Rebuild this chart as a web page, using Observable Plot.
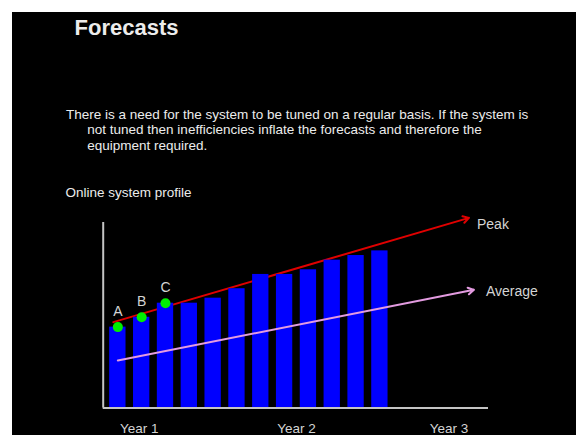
<!DOCTYPE html>
<html>
<head>
<meta charset="utf-8">
<script src="https://cdn.jsdelivr.net/npm/d3@7"></script>
<script src="https://cdn.jsdelivr.net/npm/@observablehq/plot@0.6"></script>
<style>
  html, body { margin: 0; padding: 0; background: #fff; width: 576px; height: 435px; overflow: hidden; }
  #slide { position: absolute; left: 12px; top: 12px; width: 564px; height: 423px; background: #000;
           font-family: "Liberation Sans", Arial, sans-serif; color: #ececec; }
  #title { position: absolute; left: 62.5px; top: 4.5px; margin: 0; font-size: 22px; line-height: 22px; font-weight: bold; }
  #para { position: absolute; left: 54px; top: 94.8px; margin: 0; font-size: 13.5px; line-height: 15.5px;
          padding-left: 21.3px; text-indent: -21.3px; white-space: nowrap; }
  #sub { position: absolute; left: 53.5px; top: 172.8px; margin: 0; font-size: 13.5px; line-height: 15.5px; }
  #chart { position: absolute; left: 0; top: 188px; }
  #chart svg { display: block; overflow: visible; }
</style>
</head>
<body>
<div id="slide">
  <h1 id="title">Forecasts</h1>
  <p id="para">There is a need for the system to be tuned on a regular basis. If the system is<br>not tuned then inefficiencies inflate the forecasts and therefore the<br>equipment required.</p>
  <p id="sub">Online system profile</p>
  <div id="chart"></div>
</div>
<script>
// Monthly profile bars
const months = [1, 2, 3, 4, 5, 6, 7, 8, 9, 10, 11, 12];
const load = [43.6, 48.9, 56.5, 56.5, 59.2, 64.3, 72.0, 72.0, 74.5, 79.7, 82.2, 84.7];

// Sample points A, B, C
const sampleLabels = ["A", "B", "C"];
const sampleMonths = [1, 2, 3];
const sampleValues = [43.6, 48.9, 56.5];

// Trend arrows
const peakX = [0.81, 15.74];
const peakY = [46.3, 102.5];
const avgX = [1.0, 15.95];
const avgY = [25.6, 63.7];
const trendLabels = ["Peak", "Average"];

// Year labels on the x axis
const yearLabels = ["Year 1", "Year 2", "Year 3"];
const yearPos = [1.9, 8.5, 14.9];

const xDomain = [0.385, 16.56];
const yDomain = [0, 100];

const bars = months.map((m, i) => ({m, v: load[i]}));
const samples = sampleLabels.map((s, i) => ({label: s, m: sampleMonths[i], v: sampleValues[i]}));
const peak = [{x1: peakX[0], y1: peakY[0], x2: peakX[1], y2: peakY[1]}];
const avg = [{x1: avgX[0], y1: avgY[0], x2: avgX[1], y2: avgY[1]}];

const textColor = "#d4d4d4";

const chart = Plot.plot({
  width: 564,
  height: 235,
  marginLeft: 90.7,
  marginRight: 88,
  marginTop: 22,
  marginBottom: 27.5,
  x: {domain: xDomain, axis: null},
  y: {domain: yDomain, axis: null},
  style: {background: "black", fontFamily: "Liberation Sans, Arial, sans-serif", overflow: "visible"},
  marks: [
    Plot.arrow(peak, {x1: "x1", y1: "y1", x2: "x2", y2: "y2", stroke: "#e00000", strokeWidth: 2, headLength: 5, headAngle: 60}),
    Plot.rectY(bars, {x1: d => d.m - 0.5, x2: d => d.m + 0.5, y: "v", insetLeft: 3.75, insetRight: 3.75, fill: "#0000ff"}),
    Plot.arrow(avg, {x1: "x1", y1: "y1", x2: "x2", y2: "y2", stroke: "#e39be0", strokeWidth: 2, headLength: 5, headAngle: 60}),
    Plot.ruleY([yDomain[0]], {stroke: "#c4c4c4", strokeWidth: 2}),
    Plot.ruleX([xDomain[0]], {y1: yDomain[0], y2: yDomain[1], stroke: "#c4c4c4", strokeWidth: 2}),
    Plot.dot(samples, {x: "m", y: "v", r: 5, fill: "#00ee00", stroke: "none"}),
    Plot.text(samples, {x: "m", y: "v", text: "label", dy: -16, fill: textColor, fontSize: 14}),
    Plot.text(peak, {x: "x2", y: "y2", text: () => trendLabels[0], dx: 8, dy: 7, textAnchor: "start", fill: textColor, fontSize: 14}),
    Plot.text(avg, {x: "x2", y: "y2", text: () => trendLabels[1], dx: 12, dy: 1.5, textAnchor: "start", fill: textColor, fontSize: 14}),
    Plot.axisX(yearPos, {tickSize: 0, tickPadding: 15.5, tickFormat: d => yearLabels[yearPos.indexOf(d)], fill: textColor, fontSize: 13.5})
  ]
});
document.getElementById("chart").appendChild(chart);
</script>
</body>
</html>
